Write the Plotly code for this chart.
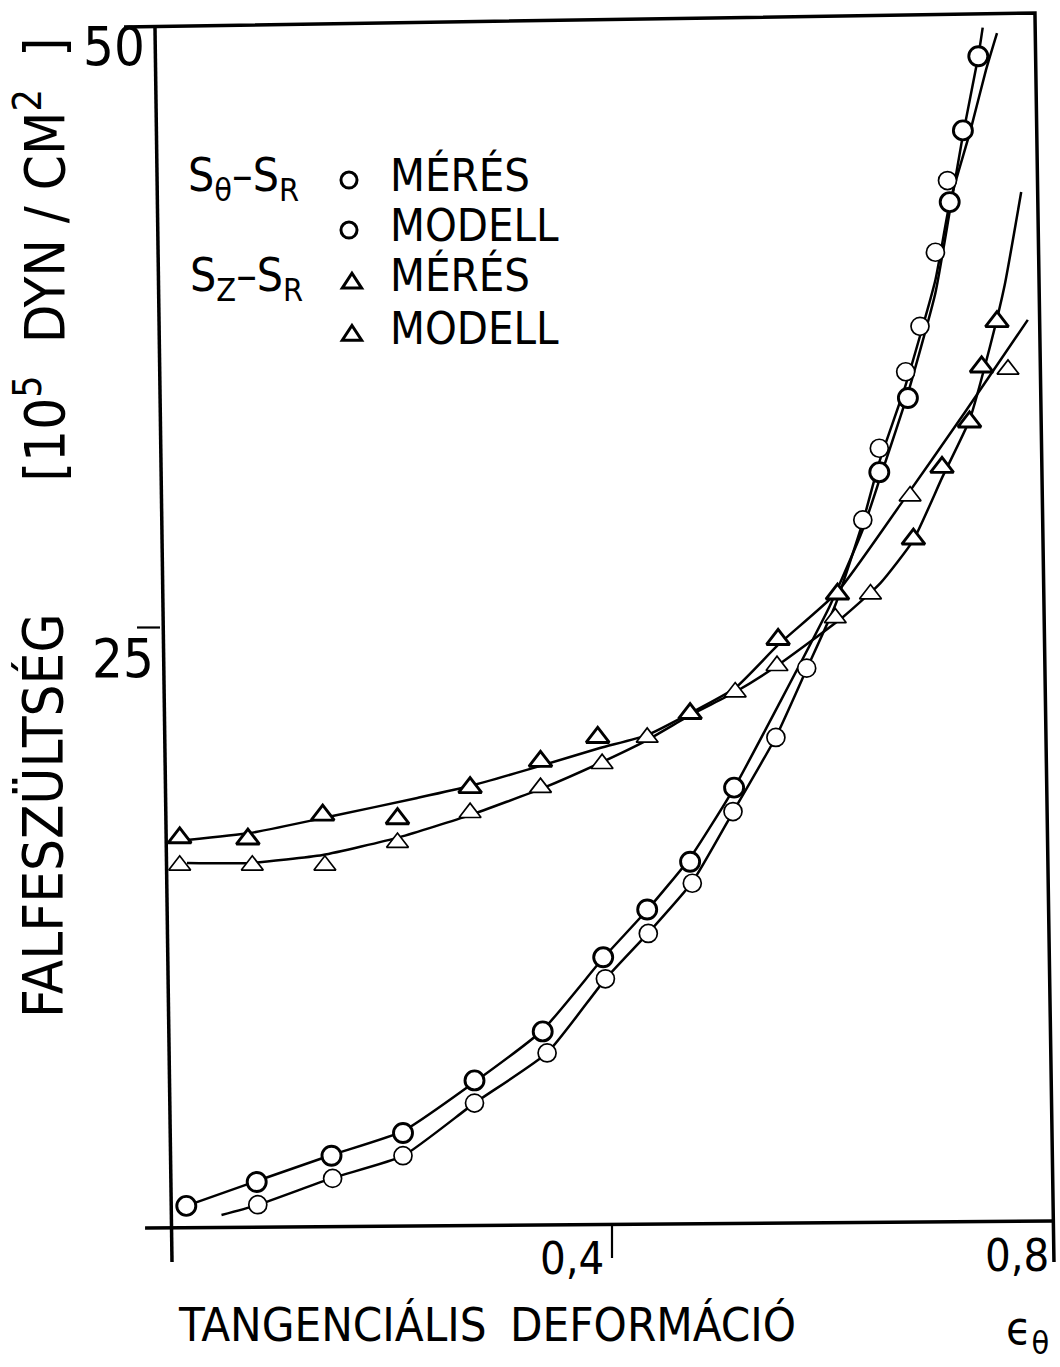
import plotly.graph_objects as go

# Wall stress [10^5 dyn/cm^2] versus tangential strain (eps_theta)

# S_theta - S_R : measured
st_meres_x = [0.013, 0.077, 0.145, 0.210, 0.275, 0.337, 0.392, 0.432, 0.471, 0.511,
              0.643, 0.669, 0.707, 0.719, 0.733]
st_meres_y = [0.8, 1.8, 2.9, 3.85, 6.05, 8.1, 11.2, 13.2, 15.2, 18.3,
              31.5, 34.6, 42.8, 45.8, 48.9]
# S_theta - S_R : model
st_modell_x = [0.078, 0.146, 0.210, 0.275, 0.341, 0.394, 0.433, 0.473, 0.510, 0.549,
               0.577, 0.628, 0.643, 0.667, 0.680, 0.694, 0.705]
st_modell_y = [0.85, 1.95, 2.9, 5.1, 7.2, 10.3, 12.2, 14.3, 17.3, 20.4,
               23.3, 29.5, 32.5, 35.7, 37.6, 40.7, 43.7]

# S_Z - S_R : measured
sz_meres_x = [0.007, 0.069, 0.137, 0.205, 0.271, 0.335, 0.387, 0.471, 0.551, 0.605,
              0.674, 0.700, 0.725, 0.736, 0.750]
sz_meres_y = [16.2, 16.15, 17.15, 17.0, 18.3, 19.4, 20.4, 21.4, 24.5, 26.4,
              28.7, 31.7, 33.6, 35.9, 37.8]
# S_Z - S_R : model
sz_modell_x = [0.007, 0.073, 0.139, 0.205, 0.271, 0.335, 0.391, 0.432, 0.512, 0.550,
               0.603, 0.635, 0.671, 0.760]
sz_modell_y = [15.05, 15.05, 15.05, 16.0, 17.25, 18.3, 19.3, 20.4, 22.3, 23.4,
               25.4, 26.4, 30.5, 35.8]

# hand-faired curves through each group
st_meres_curve_x = [0.013, 0.077, 0.145, 0.210, 0.275, 0.337, 0.392, 0.432, 0.471, 0.511,
                    0.553, 0.598, 0.628, 0.644, 0.669, 0.694, 0.707, 0.719, 0.733, 0.737]
st_meres_curve_y = [0.8, 1.84, 2.93, 3.93, 5.98, 8.16, 11.17, 13.18, 15.36, 18.28,
                    21.9, 25.9, 29.1, 31.3, 34.8, 39.0, 42.4, 45.6, 48.9, 50.1]
st_modell_curve_x = [0.045, 0.078, 0.146, 0.210, 0.275, 0.341, 0.394, 0.433, 0.473, 0.510,
                     0.549, 0.577, 0.603, 0.628, 0.643, 0.667, 0.694, 0.707, 0.726, 0.740, 0.750]
st_modell_curve_y = [0.42, 0.84, 1.97, 2.89, 5.10, 7.20, 10.29, 12.22, 14.35, 17.28,
                     20.42, 23.26, 25.94, 29.41, 31.92, 35.15, 39.54, 42.76, 45.82, 48.33, 49.87]
sz_meres_curve_x = [0.0136, 0.071, 0.146, 0.223, 0.271, 0.335, 0.389, 0.432, 0.473, 0.512,
                    0.551, 0.605, 0.662, 0.721, 0.778]
sz_meres_curve_y = [16.11, 16.4, 17.11, 17.87, 18.37, 19.21, 19.96, 20.5, 21.46, 22.47,
                    24.27, 26.49, 30.13, 34.02, 37.87]
sz_modell_curve_x = [0.0136, 0.071, 0.137, 0.207, 0.271, 0.337, 0.389, 0.432, 0.473, 0.512,
                     0.551, 0.610, 0.644, 0.674, 0.700, 0.725, 0.744, 0.757, 0.772]
sz_modell_curve_y = [15.15, 15.15, 15.48, 16.23, 17.15, 18.28, 19.33, 20.29, 21.38, 22.3,
                     23.43, 25.44, 26.86, 28.66, 31.26, 33.68, 36.82, 39.33, 43.22]

x_tick_vals = [0.4, 0.8]
x_tick_text = ["0,4", "0,8"]
y_tick_vals = [25, 50]
y_tick_text = ["25", "50"]

FONT = "DejaVu Sans Condensed, Liberation Sans, sans-serif"
INK = "black"

fig = go.Figure()

# faired curves
for cx, cy in [(st_meres_curve_x, st_meres_curve_y),
               (st_modell_curve_x, st_modell_curve_y),
               (sz_meres_curve_x, sz_meres_curve_y),
               (sz_modell_curve_x, sz_modell_curve_y)]:
    fig.add_trace(go.Scatter(x=cx, y=cy, mode="lines",
                             line=dict(color=INK, width=2.5, shape="spline", smoothing=0.5),
                             hoverinfo="skip", showlegend=False))

# point symbols
symbols = [
    (st_modell_x, st_modell_y, "circle", 18, 1.7),
    (st_meres_x, st_meres_y, "circle", 19, 2.9),
    (sz_modell_x, sz_modell_y, "triangle-up", 19, 1.7),
    (sz_meres_x, sz_meres_y, "triangle-up", 20, 2.9),
]
for px_, py_, sym, size, lw in symbols:
    fig.add_trace(go.Scatter(x=px_, y=py_, mode="markers",
                             marker=dict(symbol=sym, size=size, color="white",
                                         line=dict(color=INK, width=lw)),
                             hoverinfo="skip", showlegend=False))

# frame drawn as loose pen lines
frame_w = 3.5
shapes = [
    # top border and right border
    dict(type="path", path="M -0.0436,50.13 L 0.7845,50.71 L 0.8018,-1.55",
         line=dict(color=INK, width=frame_w)),
    # stress axis
    dict(type="line", x0=-0.0155, y0=50.21, x1=0.0, y1=-1.55,
         line=dict(color=INK, width=frame_w)),
    # strain axis
    dict(type="line", x0=-0.0245, y0=-0.13, x1=0.8018, y1=0.17,
         line=dict(color=INK, width=frame_w)),
    # tick at 0.4
    dict(type="line", x0=x_tick_vals[0], y0=0.05, x1=x_tick_vals[0], y1=-1.38,
         line=dict(color=INK, width=2.2)),
    # tick at 25
    dict(type="line", x0=-0.0318, y0=y_tick_vals[0], x1=-0.0109, y1=y_tick_vals[0],
         line=dict(color=INK, width=2.2)),
]

# legend glyphs
def circle_glyph(xc, yc, lw):
    return dict(type="circle", x0=xc - 0.0073, x1=xc + 0.0073, y0=yc - 0.335, y1=yc + 0.335,
                fillcolor="white", line=dict(color=INK, width=lw))

def tri_glyph(xc, yc, lw):
    p = (f"M {xc - 0.0088},{yc - 0.30} L {xc + 0.0088},{yc - 0.30} "
         f"L {xc},{yc + 0.32} Z")
    return dict(type="path", path=p, fillcolor="white", line=dict(color=INK, width=lw))

shapes += [
    circle_glyph(0.1609, 43.72, 3.0),
    circle_glyph(0.1609, 41.63, 3.0),
    tri_glyph(0.1636, 39.50, 3.0),
    tri_glyph(0.1636, 37.32, 3.0),
]

def txt(x, y, s, size, xanchor="center", yanchor="middle", angle=0):
    return dict(x=x, y=y, text=s, showarrow=False, xanchor=xanchor, yanchor=yanchor,
                textangle=angle, font=dict(family=FONT, size=size, color=INK))

annotations = [
    # tick labels
    txt(-0.0527, 49.30, y_tick_text[1], 54),
    txt(-0.0445, 23.70, y_tick_text[0], 54),
    txt(0.3636, -1.40, x_tick_text[0], 45),
    txt(0.7682, -1.26, x_tick_text[1], 45),
    # axis titles
    txt(0.0036, -4.15, "TANGENCIÁLIS", 47, xanchor="left"),
    txt(0.3055, -4.15, "DEFORMÁCIÓ", 47, xanchor="left"),
    txt(0.778, -4.45, "ϵ<sub>θ</sub>", 46),
    txt(-0.1182, 17.15, "FALFESZÜLTSÉG", 56, angle=-90),
    txt(-0.1190, 40.4,
        "[10<sup>5</sup>&nbsp;&nbsp;DYN&nbsp;/&nbsp;CM<sup>2</sup>&nbsp;&nbsp;]", 56, angle=-90),
    # legend
    txt(0.0127, 43.80, "S<sub>θ</sub>–S<sub>R</sub>", 46, xanchor="left"),
    txt(0.0145, 39.60, "S<sub>Z</sub>–S<sub>R</sub>", 46, xanchor="left"),
    txt(0.1964, 43.93, "MÉRÉS", 45, xanchor="left"),
    txt(0.1964, 41.84, "MODELL", 45, xanchor="left"),
    txt(0.1964, 39.71, "MÉRÉS", 45, xanchor="left"),
    txt(0.1964, 37.53, "MODELL", 45, xanchor="left"),
]

fig.update_layout(
    width=1060, height=1367, autosize=False,
    margin=dict(l=0, r=0, t=0, b=0),
    paper_bgcolor="white", plot_bgcolor="white",
    xaxis=dict(range=[-0.156364, 0.807273], visible=False, fixedrange=True),
    yaxis=dict(range=[-5.9414, 51.2552], visible=False, fixedrange=True),
    shapes=shapes, annotations=annotations, showlegend=False,
    font=dict(family=FONT, color=INK),
)

fig.write_html("out.html", config={"displayModeBar": False})
